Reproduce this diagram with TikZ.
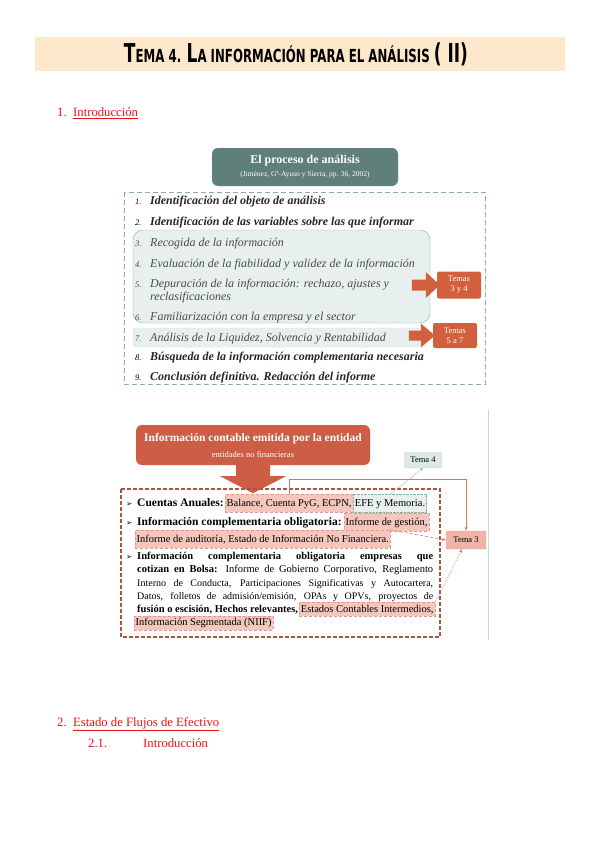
\documentclass[tikz,border=0pt]{standalone}
\usepackage{fontspec}
\usepackage{graphicx}
\setmainfont{Liberation Serif}
\newfontfamily\symfont{DejaVu Sans}
\usetikzlibrary{arrows.meta, positioning, calc}
\definecolor{PeachFill}{HTML}{FDE8CB}
\definecolor{HeadRed}{HTML}{EE1111}
\definecolor{TealDark}{HTML}{5F7F7A}
\definecolor{TealLine}{HTML}{8EACA7}
\definecolor{TealFill}{HTML}{E8F0EF}
\definecolor{TealPale}{HTML}{DDE9E7}
\definecolor{OrangeFill}{HTML}{D2603F}
\definecolor{BrickFill}{HTML}{CD5E45}
\definecolor{BrickLine}{HTML}{B0523E}
\definecolor{PinkFill}{HTML}{F4C6BC}
\definecolor{PinkLine}{HTML}{E0998A}
\definecolor{SalmonFill}{HTML}{EDB4A7}
\definecolor{LinkRed}{HTML}{E2725E}
\definecolor{RuleGray}{HTML}{C8D9D6}
\definecolor{ItemGray}{HTML}{4A4A4A}
\newcommand{\capL}[1]{{\fontsize{26}{26}\selectfont #1}}
\newcommand{\fitw}[2]{\resizebox{#1}{\height}{#2}}

\begin{document}
\begin{tikzpicture}[
    x=1pt, y=-1pt,
    head/.style={anchor=base west, inner sep=0pt, text=HeadRed,
        font=\fontsize{12.7}{14}\selectfont},
    num/.style={anchor=base west, inner sep=0pt, font=\fontsize{8.5}{9}\selectfont\itshape},
    itemkey/.style={anchor=base west, inner sep=0pt, align=left, text=black!85,
        font=\fontsize{12}{13}\selectfont\bfseries\itshape},
    itemsoft/.style={itemkey, text=ItemGray, font=\fontsize{12}{13}\selectfont\itshape},
    temas/.style={fill=OrangeFill, rounded corners=2pt, text=white, align=center,
        font=\fontsize{8.5}{10}\selectfont, minimum width=44pt, minimum height=27pt,
        inner sep=1pt},
    body/.style={anchor=base west, inner sep=0pt, font=\fontsize{10.5}{12}\selectfont},
    lead/.style={body, font=\fontsize{11.5}{12}\selectfont\bfseries},
    bullet/.style={anchor=base west, inner sep=0pt, font=\symfont\fontsize{7.5}{8}\selectfont},
    hlpink/.style={body, fill=PinkFill, draw=PinkLine, densely dashed, thin,
        inner xsep=1.5pt, inner ysep=0pt, minimum height=18pt},
    hlteal/.style={hlpink, fill=TealFill, draw=TealLine, densely dotted},
    link/.style={LinkRed, semithick, -{Stealth[length=4pt, width=3pt]}}
]
\useasboundingbox (0,0) rectangle (599,848);

% ===================================================================
% TITLE
% ===================================================================
\fill[PeachFill] (35,37) rectangle (565,71);
\node[inner sep=0pt] (title) at (296,54) {\fitw{344pt}{\symfont\bfseries\fontsize{18}{18}\selectfont
    \capL{T}EMA 4. \capL{L}A INFORMACIÓN PARA EL ANÁLISIS \capL{( II)}}};

\node[head] (h1num) at (57,117) {1.};
\node[head] (h1) at (73,117) {\underline{Introducción}};

% ===================================================================
% EL PROCESO DE ANALISIS
% ===================================================================
\node[fill=TealDark, draw=TealLine, dashed, rounded corners=6pt, text=white,
      align=center, minimum width=186pt, minimum height=38pt,
      font=\fontsize{12}{13}\selectfont] (proc) at (305,167)
    {\textbf{El proceso de análisis}\\[0pt]
     {\fontsize{7.5}{8}\selectfont (Jiménez, Gª-Ayuso y Sierra, pp. 36, 2002)}};

\draw[TealLine, thick, dash pattern=on 5pt off 3pt] (124,192) rectangle (485,384);

% Grouped steps
\draw[TealLine, fill=TealFill, rounded corners=10pt] (133,230) rectangle (430,323);
\draw[TealLine, fill=TealFill, densely dotted, rounded corners=3pt] (133,328) rectangle (420,347);

\node[num] (n1) at (135,204) {1.};
\node[itemkey] (i1) at (150,204) {Identificación del objeto de análisis};
\node[num] (n2) at (135,225) {2.};
\node[itemkey] (i2) at (150,225) {Identificación de las variables sobre las que informar};
\node[num, text=ItemGray] (n3) at (135,246) {3.};
\node[itemsoft] (i3) at (150,246) {Recogida de la información};
\node[num, text=ItemGray] (n4) at (135,267) {4.};
\node[itemsoft] (i4) at (150,267) {Evaluación de la fiabilidad y validez de la información};
\node[num, text=ItemGray] (n5) at (135,287) {5.};
\node[itemsoft] (i5) at (150,300) {Depuración de la información: rechazo, ajustes y\\reclasificaciones};
\node[num, text=ItemGray] (n6) at (135,320) {6.};
\node[itemsoft] (i6) at (150,320) {Familiarización con la empresa y el sector};
\node[num, text=ItemGray] (n7) at (135,341) {7.};
\node[itemsoft] (i7) at (150,341) {Análisis de la Liquidez, Solvencia y Rentabilidad};
\node[num] (n8) at (135,360) {8.};
\node[itemkey] (i8) at (150,360) {Búsqueda de la información complementaria necesaria};
\node[num] (n9) at (135,380) {9.};
\node[itemkey] (i9) at (150,380) {Conclusión definitiva. Redacción del informe};

% Pointers to the units
\node[temas] (t34) at (459,285) {Temas\\3 y 4};
\node[temas, minimum height=25pt] (t57) at (455,335.5) {Temas\\5 a 7};
\fill[OrangeFill] ($(t34.west)+(-25,-5.5)$) -- ++(14,0) -- ++(0,-7.5) -- ++(14,13)
    -- ++(-14,13) -- ++(0,-7.5) -- ++(-14,0) -- cycle;
\fill[OrangeFill] ($(t57.west)+(-24,-5)$) -- ++(12,0) -- ++(0,-7) -- ++(14,12)
    -- ++(-14,12) -- ++(0,-7) -- ++(-12,0) -- cycle;

% ===================================================================
% INFORMACION CONTABLE
% ===================================================================
\draw[RuleGray, line width=1pt] (488,410) -- (488,640);

\node[fill=BrickFill, draw=BrickFill!70!white, densely dotted, rounded corners=6pt,
      text=white, align=center, minimum width=234pt, minimum height=40pt,
      font=\fontsize{11.5}{12}\selectfont\bfseries] (src) at (253,445)
    {Información contable emitida por la entidad\\[4pt]
     {\fontsize{8.5}{9}\selectfont\mdseries entidades no financieras}};
\fill[BrickFill] ($(src.south)+(-17,-1)$) -- ++(0,12) -- ++(-16,0) -- ++(33,17)
    -- ++(33,-17) -- ++(-16,0) -- ++(0,-12) -- cycle;

\draw[BrickLine, line width=1.6pt, dash pattern=on 4pt off 2pt] (121,489) rectangle (440,637);

% Row 1
\node[bullet] (b1) at (126,506) {➢};
\node[lead] (ca) at (137,506) {Cuentas Anuales:};
\node[hlpink, right=1pt of ca.base east, anchor=base west] (bal) {Balance, Cuenta PyG, ECPN,};
\node[hlteal, right=0pt of bal.base east, anchor=base west] (efe) {EFE y Memoria.};
% Row 2
\node[bullet] (b2) at (126,525) {➢};
\node[lead] (ico) at (137,525) {Información complementaria obligatoria:};
\node[hlpink, right=2pt of ico.base east, anchor=base west] (ges) {Informe de gestión,};
% Row 3
\node[hlpink] (nf) at (135,542) {Informe de auditoría, Estado de Información No Financiera.};
% Rows 4 to 9
\node[bullet] (b4) at (126,559.5) {➢};
\node[body] (r4) at (137,559.5) {\makebox[296pt][s]{\bfseries Información complementaria obligatoria empresas que}};
\node[body] (r5) at (137,572.5) {\makebox[296pt][s]{\textbf{cotizan en Bolsa:} Informe de Gobierno Corporativo, Reglamento}};
\node[body, font=\fontsize{10}{12}\selectfont] (r6) at (137,586.5) {\makebox[296pt][s]{Interno de Conducta, Participaciones Significativas y Autocartera,}};
\node[body, font=\fontsize{10}{12}\selectfont] (r7) at (137,599.5) {\makebox[296pt][s]{Datos, folletos de admisión/emisión, OPAs y OPVs, proyectos de}};
\node[body, font=\fontsize{10.5}{12}\selectfont\bfseries] (r8) at (137,612) {fusión o escisión, Hechos relevantes,};
\node[hlpink, minimum height=14pt, right=1pt of r8.base east, anchor=base west] (eci) {Estados Contables Intermedios,};
\node[hlpink, minimum height=14pt] (niif) at (134,625.5) {Información Segmentada (NIIF)};

% Units
\node[fill=TealPale, draw=TealLine, densely dotted, rounded corners=2pt,
      minimum width=38pt, minimum height=16pt, font=\fontsize{8.5}{9}\selectfont] (t4) at (423,460) {Tema 4};
\node[fill=SalmonFill, draw=PinkLine, densely dashed, rounded corners=1pt,
      minimum width=40pt, minimum height=18pt, font=\fontsize{8.5}{9}\selectfont] (t3) at (466,540) {Tema 3};

\coordinate (k1) at (466,479);
\draw[link] (bal.north) |- (k1) -- (t3.north);
\draw[TealLine, densely dotted, thick, {Stealth[length=3pt, width=3pt]}-] (t4.south) -- (efe.north);
\draw[link, densely dashed] (nf.north east) -- (t3.west);
\draw[link, densely dotted] (eci.north east) -- ([xshift=-4pt]t3.south);

% ===================================================================
% SECTION 2
% ===================================================================
\node[head] (h2num) at (57,726) {2.};
\node[head] (h2) at (73,726) {\underline{Estado de Flujos de Efectivo}};
\node[head] (h21num) at (88,747) {2.1.};
\node[head] (h21) at (143,747) {Introducción};

\end{tikzpicture}
\end{document}
